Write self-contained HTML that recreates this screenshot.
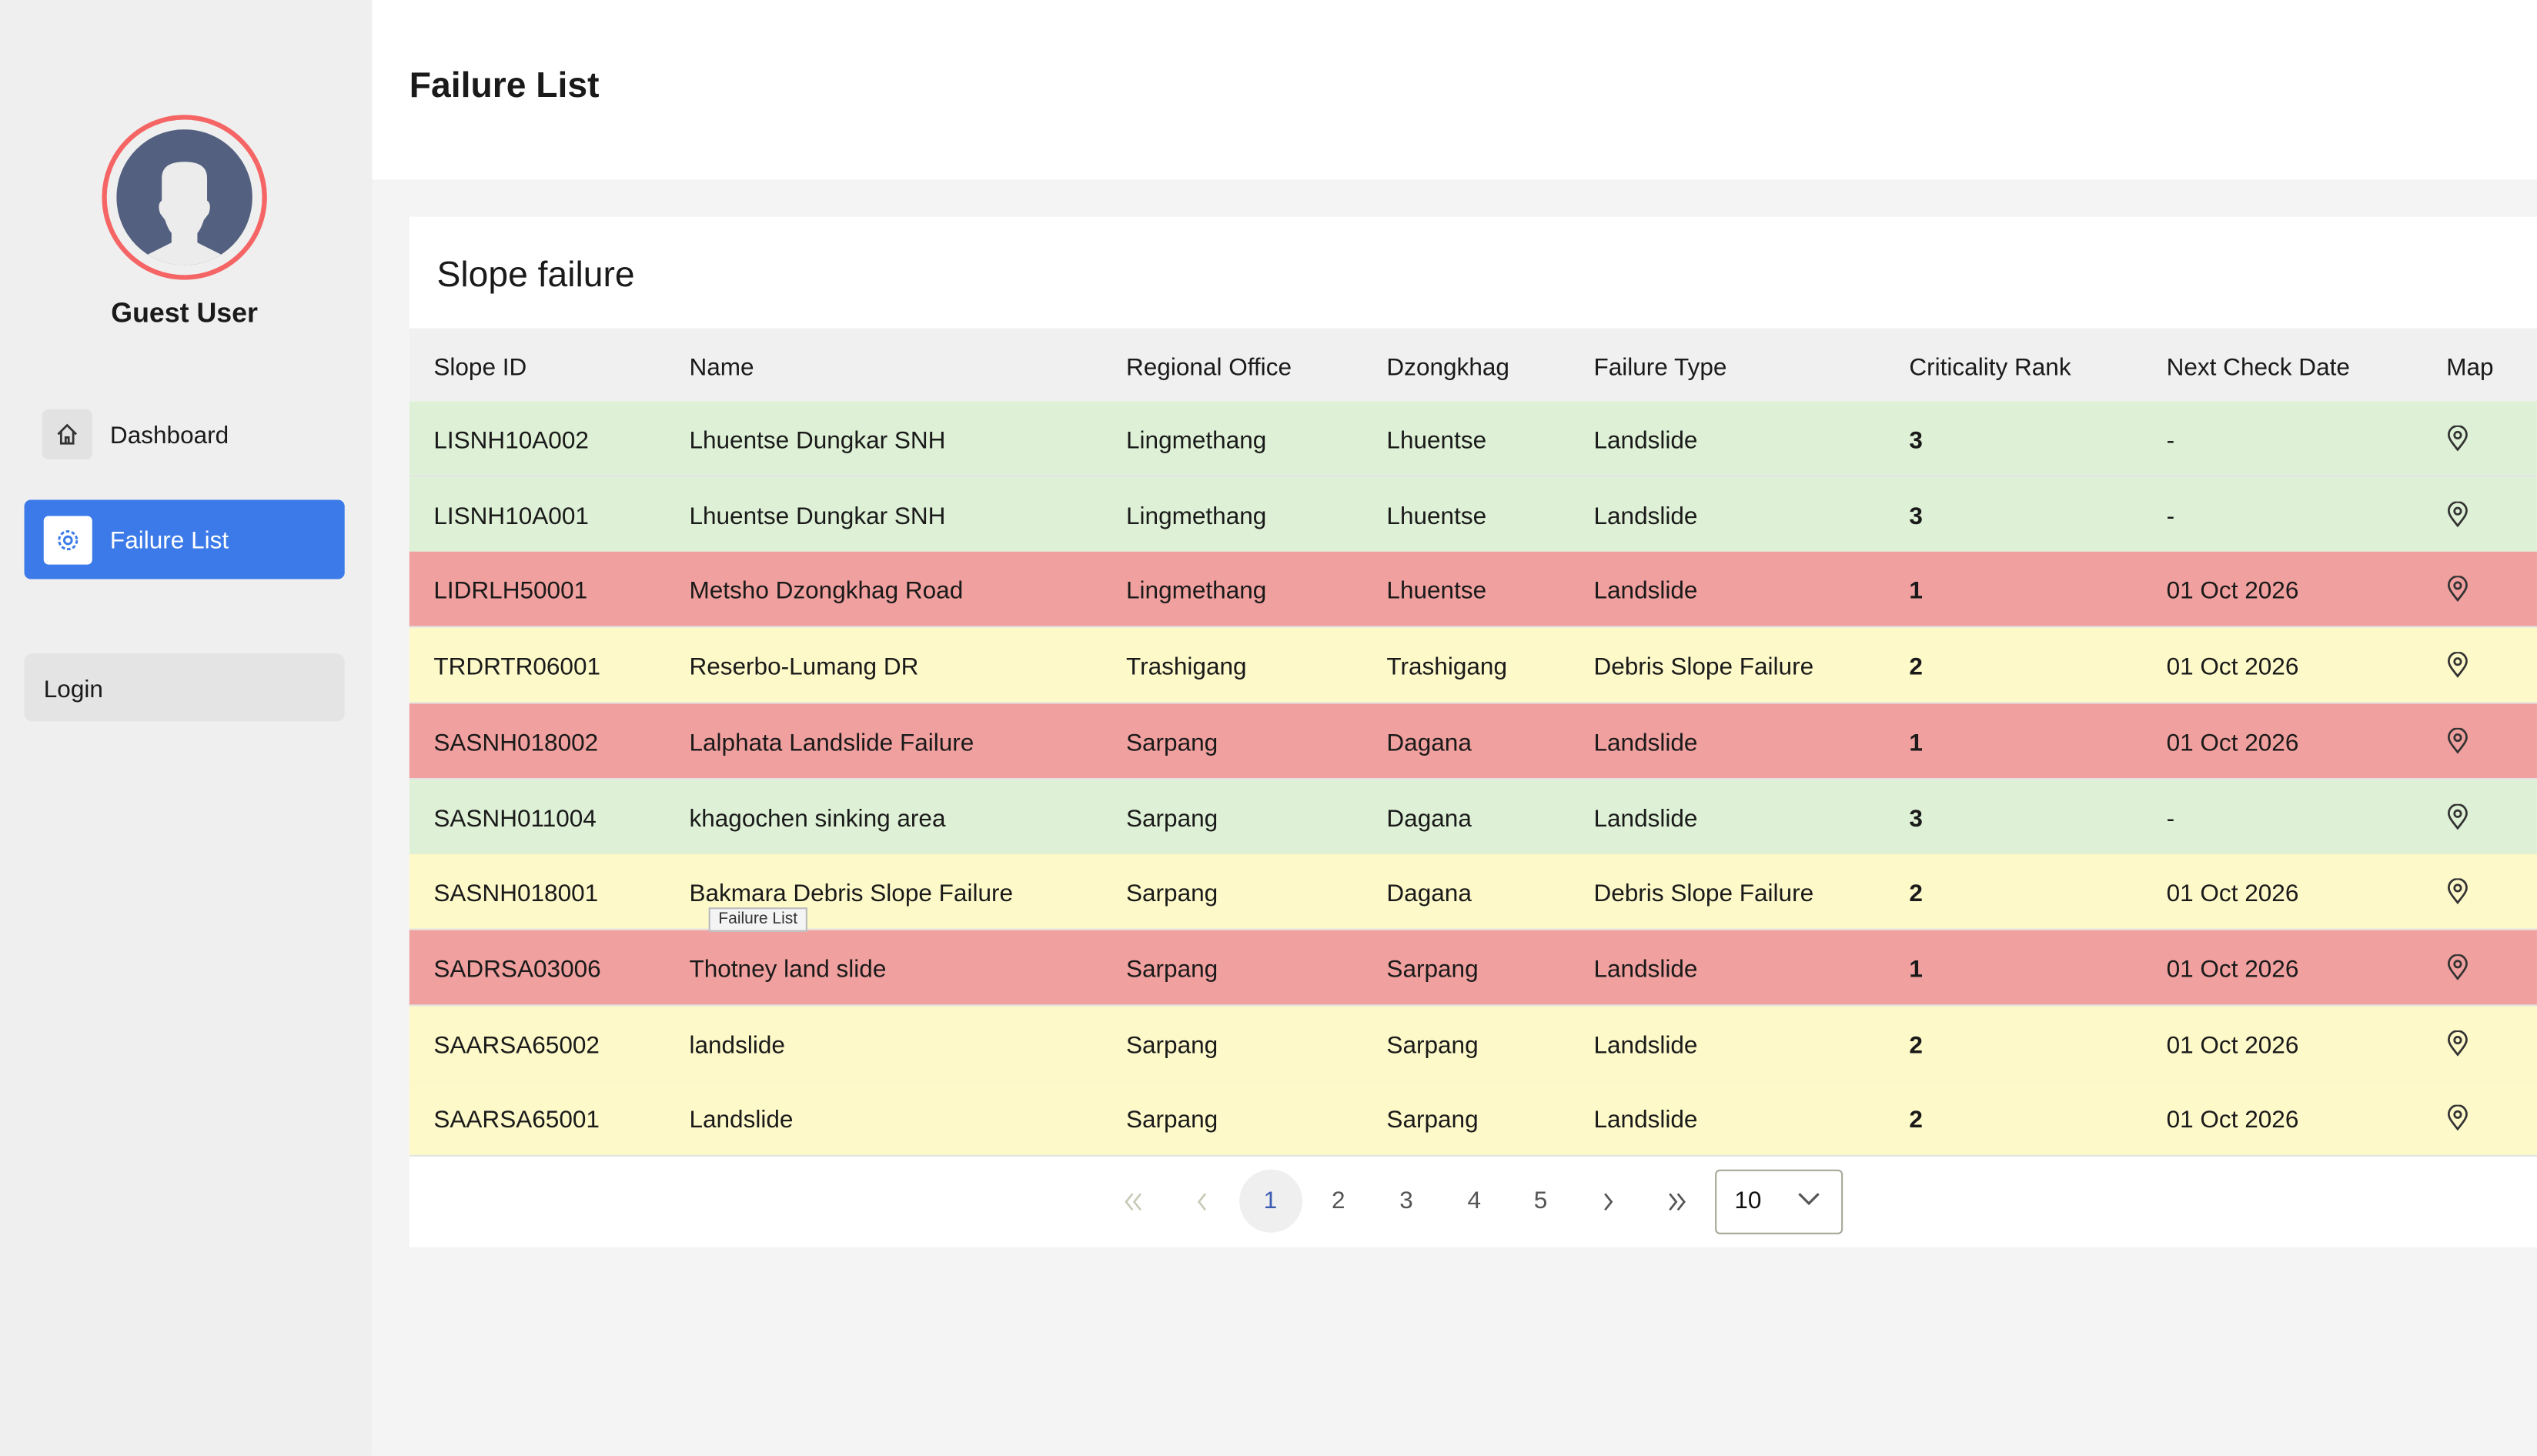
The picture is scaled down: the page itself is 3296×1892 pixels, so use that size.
<!DOCTYPE html>
<html><head><meta charset="utf-8"><style>
html,body{margin:0;padding:0;width:3296px;height:1892px;overflow:hidden;background:#f4f4f4;}
#w{position:absolute;left:0;top:0;width:1568px;height:900px;transform:scale(2.102);transform-origin:0 0;font-family:"Liberation Sans",sans-serif;color:#1a1a1a;}
.sb{position:absolute;left:0;top:0;width:230px;height:900px;background:#efefef;}
.hdr{position:absolute;left:230px;top:0;width:1338px;height:111px;background:#fff;}
.abs{position:absolute;}
.card{position:absolute;left:253px;top:134px;width:1315px;height:637px;background:#fff;}
.row{position:absolute;left:0;width:1315px;height:46px;border-bottom:1px solid #e4e4e4;font-size:15px;}
.row span{position:absolute;top:16px;white-space:nowrap;}
.g{background:#def1d6}.r{background:#f0a09e}.y{background:#fdf9c9}
.pg{position:absolute;top:600px;font-size:15px;color:#555;}
</style></head><body><div id="w">
<div class="sb">
 <div class="abs" style="left:63px;top:71px;width:96px;height:96px;border:3px solid #f56565;border-radius:50%;"></div>
 <svg class="abs" style="left:72px;top:80px" width="84" height="84" viewBox="0 0 84 84"><defs><clipPath id="c"><circle cx="42" cy="42" r="42"/></clipPath></defs><circle cx="42" cy="42" r="42" fill="#53607f"/><g clip-path="url(#c)" fill="#ececec"><path d="M28 30 Q28 20 42 20 Q56 20 56 30 L56 44 Q59 46 57 52 L54 56 Q52 62 50 64 L50 70 L66 78 L66 90 L18 90 L18 78 L34 70 L34 64 Q32 62 30 56 L27 52 Q25 46 28 44 Z"/></g></svg>
 <div class="abs" style="left:0;width:228px;top:184px;text-align:center;font-weight:bold;font-size:17px;">Guest User</div>
 <div class="abs" style="left:26px;top:253px;width:31px;height:31px;background:#e2e2e2;border-radius:4px;"></div>
 <svg class="abs" style="left:34px;top:261px" width="15" height="15" viewBox="0 0 16 16" fill="none" stroke="#333" stroke-width="1.4"><path d="M2 8 L8 2 L14 8 M4 6.5 V14 H12 V6.5 M7 14 V10 H9 V14"/></svg>
 <div class="abs" style="left:68px;top:261px;font-size:15px;">Dashboard</div>
 <div class="abs" style="left:15px;top:309px;width:198px;height:49px;background:#3b7ae8;border-radius:4px;"></div>
 <div class="abs" style="left:27px;top:319px;width:30px;height:30px;background:#fff;border-radius:3px;"></div>
 <svg class="abs" style="left:34px;top:326px" width="16" height="16" viewBox="0 0 16 16" fill="none" stroke="#3b7ae8" stroke-width="1.4"><circle cx="8" cy="8" r="2.3"/><circle cx="8" cy="8" r="5.5" stroke-dasharray="2.2 1.3"/></svg>
 <div class="abs" style="left:68px;top:326px;font-size:15px;color:#fff;">Failure List</div>
 <div class="abs" style="left:15px;top:404px;width:198px;height:42px;background:#e4e4e4;border-radius:5px;"></div>
 <div class="abs" style="left:27px;top:418px;font-size:15px;">Login</div>
</div>
<div class="hdr"><div class="abs" style="left:23px;top:40px;font-size:22px;font-weight:bold;">Failure List</div></div>
<div class="card">
 <div class="abs" style="left:17px;top:23px;font-size:22px;">Slope failure</div>
 <div class="row" style="top:69px;background:#f0f0f0;height:45px;border:none"><span style="left:15px">Slope ID</span><span style="left:173px">Name</span><span style="left:443px">Regional Office</span><span style="left:604px">Dzongkhag</span><span style="left:732px">Failure Type</span><span style="left:927px">Criticality Rank</span><span style="left:1086px">Next Check Date</span><span style="left:1259px">Map</span></div>
 <div id="rows"></div>
 <svg class="abs" style="left:441px;top:603px" width="14" height="12" viewBox="0 0 14 12" fill="none" stroke="#c8cbb8" stroke-width="1.3"><path d="M6 1 L2 6 L6 11 M11 1 L7 6 L11 11"/></svg>
 <svg class="abs" style="left:486px;top:603px" width="8" height="12" viewBox="0 0 8 12" fill="none" stroke="#c8cbb8" stroke-width="1.3"><path d="M6 1 L2 6 L6 11"/></svg>
 <div class="abs" style="left:513px;top:589px;width:39px;height:39px;border-radius:50%;background:#efefef;"></div>
 <div class="pg" style="left:528px;color:#3a5bb0">1</div>
 <div class="pg" style="left:570px">2</div><div class="pg" style="left:612px">3</div><div class="pg" style="left:654px">4</div><div class="pg" style="left:695px">5</div>
 <svg class="abs" style="left:737px;top:603px" width="8" height="12" viewBox="0 0 8 12" fill="none" stroke="#555" stroke-width="1.3"><path d="M2 1 L6 6 L2 11"/></svg>
 <svg class="abs" style="left:776px;top:603px" width="14" height="12" viewBox="0 0 14 12" fill="none" stroke="#555" stroke-width="1.3"><path d="M3 1 L7 6 L3 11 M8 1 L12 6 L8 11"/></svg>
 <div class="abs" style="left:807px;top:589px;width:77px;height:38px;border:1px solid #a8a898;border-radius:3px;"></div>
 <div class="pg" style="left:819px;color:#111">10</div>
 <svg class="abs" style="left:858px;top:603px" width="14" height="9" viewBox="0 0 14 9"><path d="M1 1 L7 7 L13 1" fill="none" stroke="#555" stroke-width="1.5"/></svg>
</div>
<div class="abs" style="left:438px;top:561px;padding:1px 5px;font-size:10px;background:#f4f4f4;border:1px solid #bbb;color:#333;">Failure List</div>
</div>
<script>
var d=[["g","LISNH10A002","Lhuentse Dungkar SNH","Lingmethang","Lhuentse","Landslide","3","-"],
["g","LISNH10A001","Lhuentse Dungkar SNH","Lingmethang","Lhuentse","Landslide","3","-"],
["r","LIDRLH50001","Metsho Dzongkhag Road","Lingmethang","Lhuentse","Landslide","1","01 Oct 2026"],
["y","TRDRTR06001","Reserbo-Lumang DR","Trashigang","Trashigang","Debris Slope Failure","2","01 Oct 2026"],
["r","SASNH018002","Lalphata Landslide Failure","Sarpang","Dagana","Landslide","1","01 Oct 2026"],
["g","SASNH011004","khagochen sinking area","Sarpang","Dagana","Landslide","3","-"],
["y","SASNH018001","Bakmara Debris Slope Failure","Sarpang","Dagana","Debris Slope Failure","2","01 Oct 2026"],
["r","SADRSA03006","Thotney land slide","Sarpang","Sarpang","Landslide","1","01 Oct 2026"],
["y","SAARSA65002","landslide","Sarpang","Sarpang","Landslide","2","01 Oct 2026"],
["y","SAARSA65001","Landslide","Sarpang","Sarpang","Landslide","2","01 Oct 2026"]];
var x=[15,173,443,604,732,927,1086],h="";
var pin='<svg style="position:absolute;left:1259px;top:15px" width="14" height="16" viewBox="0 0 14 16" fill="none" stroke="#333" stroke-width="1.3"><path d="M7 15 C3 10 1.5 8 1.5 5.8 A5.5 5.5 0 0 1 12.5 5.8 C12.5 8 11 10 7 15Z"/><circle cx="7" cy="6" r="2"/></svg>';
d.forEach(function(r,i){h+='<div class="row '+r[0]+'" style="top:'+(114+i*46.7)+'px">';for(var j=0;j<7;j++)h+='<span style="left:'+x[j]+'px'+(j==5?';font-weight:bold':'')+'">'+r[j+1]+'</span>';h+=pin+'</div>';});
document.getElementById("rows").innerHTML=h;
</script>
</body></html>
